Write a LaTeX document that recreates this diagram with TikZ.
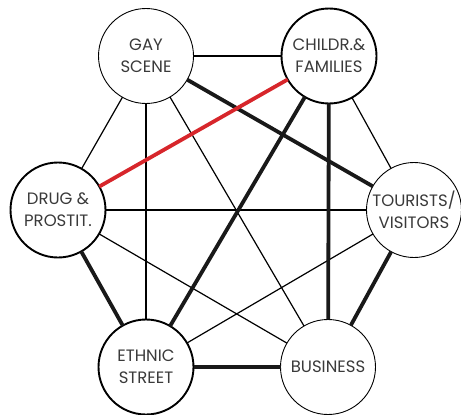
\documentclass[tikz,border=0pt]{standalone}
\usepackage{fontspec}
\setmainfont{Poppins}
\definecolor{txt}{HTML}{3A3A3A}
\definecolor{redline}{HTML}{D7262B}
\tikzset{
  actor/.style={circle, draw=black, fill=white, minimum size=95pt, inner sep=0pt, outer sep=0pt,
    align=center, text=txt, font=\fontsize{16.5}{22}\selectfont},
  thinring/.style={actor, line width=0.9pt},
  thickring/.style={actor, line width=1.9pt},
  weak/.style={line width=1.2pt, black},
  strong/.style={line width=3.8pt, black!90},
  conflict/.style={line width=3.8pt, redline}
}
\begin{document}
\begin{tikzpicture}[x=1pt,y=-1pt]
\useasboundingbox (0,0) rectangle (461,415);
\node[thinring]  (gs) at (146,56)  {GAY\\SCENE};
\node[thickring] (cf) at (329,56)  {CHILDR.\&\\FAMILIES};
\node[thickring] (dp) at (58,210)  {DRUG \&\\PROSTIT.};
\node[thinring]  (tv) at (414,210) {TOURISTS/\\VISITORS};
\node[thickring] (es) at (146,367) {ETHNIC\\STREET};
\node[thinring]  (bu) at (328,367) {BUSINESS};
% thin links
\draw[weak] (gs) -- (cf);
\draw[weak] (gs) -- (dp);
\draw[weak] (gs) -- (es);
\draw[weak] (gs) -- (bu);
\draw[weak] (cf) -- (tv);
\draw[weak] (dp) -- (tv);
\draw[weak] (dp) -- (bu);
\draw[weak] (es) -- (tv);
% strong links
\draw[strong] (gs) -- (tv);
\draw[strong] (cf) -- (es);
\draw[strong] (cf) -- (bu);
\draw[strong] (dp) -- (es);
\draw[strong] (tv) -- (bu);
\draw[strong] (es) -- (bu);
% conflict
\draw[conflict] (cf) -- (dp);
\end{tikzpicture}
\end{document}
